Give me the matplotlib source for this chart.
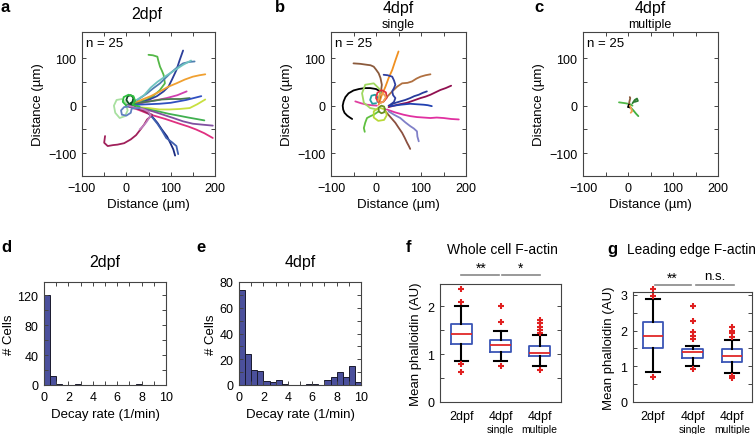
import numpy as np
import matplotlib
matplotlib.use('Agg')
import matplotlib.pyplot as plt
from matplotlib.transforms import blended_transform_factory

plt.rcParams['font.family'] = ['Liberation Sans', 'DejaVu Sans']

# ---------------- data ----------------
tracks_2dpf = [
    [(0, 0), (20, 8), (45, 12), (60, 20), (75, 32), (87, 47), (84, 65), (80, 74), (76, 82), (72, 95), (70, 103), (60, 106), (50, 107)],
    [(0, 0), (15, 2), (32, 6), (50, 12), (69, 20), (84, 30), (95, 40), (103, 55), (113, 75), (120, 95), (128, 116)],
    [(0, 0), (25, 12), (47, 26), (60, 36), (76, 47), (88, 58), (99, 68), (114, 80), (128, 89), (142, 92), (154, 93)],
    [(0, 0), (20, 10), (40, 22), (55, 38), (70, 50), (90, 63), (110, 75), (128, 86), (146, 95)],
    [(0, 0), (18, 5), (36, 13), (55, 20), (76, 30), (95, 40), (113, 47), (132, 55), (150, 61), (165, 64), (178, 66)],
    [(0, 0), (25, 3), (45, 8), (70, 12), (91, 16), (115, 22), (136, 30)],
    [(0, 0), (30, 6), (60, 10), (80, 13), (100, 14), (122, 14), (143, 16)],
    [(0, 0), (25, 2), (50, 3), (75, 4), (100, 6), (135, 12), (169, 20)],
    [(0, 0), (25, -3), (50, -5), (75, -8), (98, -8), (120, -7), (143, -5), (160, 3), (178, 13)],
    [(0, 0), (25, -4), (50, -8), (72, -12), (95, -17), (118, -21), (140, -25), (158, -28), (176, -31)],
    [(0, 0), (30, -5), (60, -12), (83, -19), (106, -26), (128, -33), (150, -38), (172, -40), (195, -42)],
    [(0, 0), (28, -9), (55, -19), (88, -28), (120, -38), (140, -44), (157, -50), (176, -58), (195, -68)],
    [(0, 0), (20, -4), (40, -10), (52, -17), (60, -25), (70, -36), (80, -50), (92, -65), (100, -80), (106, -92), (110, -105)],
    [(0, 0), (22, -5), (45, -12), (58, -24), (70, -38), (80, -52), (90, -68), (103, -77), (113, -85), (115, -94), (117, -102)],
    [(0, 0), (24, -5), (40, -12), (58, -19), (52, -25), (47, -29), (40, -40), (32, -50), (22, -62), (10, -71), (-5, -79), (-20, -82), (-30, -83), (-42, -85), (-50, -78), (-48, -64)],
    [(0, 0), (20, -3), (40, -8), (50, -13), (55, -20), (50, -28), (45, -35), (38, -43), (30, -50)],
    [(0, 5), (-10, 14), (-22, 12), (-28, 0), (-25, -15), (-15, -26), (-3, -22), (3, -10), (0, 0)],
    [(5, 5), (0, 12), (3, 20), (10, 22), (16, 17), (14, 8), (8, 4), (20, 0)],
    [(0, 0), (-8, 8), (-6, 18), (5, 23), (16, 20), (20, 10), (14, 2), (30, -2)],
    [(5, -2), (-5, -3), (-12, -10), (-10, -19), (0, -21), (10, -15), (12, -6), (30, -5)],
]
colors_2dpf = ['#55B848', '#2B3E9A', '#4E7FB0', '#6FC3C0', '#F0A030', '#D040B0',
               '#4A7A50', '#3050C0', '#C8E040', '#40B050', '#8050A0', '#E03080',
               '#1A2A80', '#4060B0', '#A0205A', '#C080C0', '#A8E0A0', '#0A5020',
               '#30C040', '#6080C0']

tracks_single = [
    [(10, 30), (0, 35), (-13, 37), (-25, 37), (-38, 35), (-50, 32), (-61, 26), (-68, 18), (-72, 9), (-74, 0), (-73, -8), (-70, -15), (-64, -21), (-58, -25), (-53, -28)],
    [(6, 2), (12, 20), (21, 40), (28, 58), (36, 75), (43, 95), (50, 114)],
    [(6, 9), (10, 23), (13, 44), (10, 58), (6, 68), (0, 76), (-5, 82), (-12, 85), (-20, 86), (-35, 88), (-50, 89)],
    [(17, 9), (26, 20), (36, 30), (47, 40), (58, 47), (70, 48), (80, 51), (90, 57), (99, 61), (110, 64), (121, 66)],
    [(32, 2), (40, 8), (43, 16), (38, 22), (36, 30), (40, 37), (43, 44), (40, 53), (36, 61), (26, 64), (17, 65)],
    [(28, 0), (40, 5), (54, 9), (65, 12), (76, 16), (85, 20), (95, 23), (104, 27), (113, 30)],
    [(28, -3), (48, 2), (69, 6), (84, 11), (99, 16), (110, 19), (121, 23), (132, 28), (143, 33), (155, 37), (167, 42)],
    [(32, -1), (55, 2), (76, 4), (90, 3), (106, 2), (115, 1), (124, -1)],
    [(24, -8), (42, -14), (61, -19), (76, -22), (91, -24), (106, -25), (121, -26), (135, -25), (150, -26), (167, -28), (184, -29)],
    [(28, -12), (40, -19), (54, -26), (65, -35), (76, -43), (84, -48), (91, -54), (92, -65), (95, -75)],
    [(21, -12), (32, -24), (43, -36), (50, -46), (58, -57), (64, -68), (69, -78), (73, -85), (76, -91)],
    [(2, 0), (-10, 1), (-20, 2), (-33, 5), (-46, 9)],
    [(6, 13), (10, 33), (-5, 47), (-24, 44), (-31, 26), (-27, 6), (-13, -5), (2, -8)],
    [(6, -12), (-5, -19), (-12, -22), (-20, -26), (-24, -36), (-27, -47), (-25, -55)],
    [(5, -5), (-5, -12), (-5, -25), (5, -32), (18, -30), (24, -20), (20, -8), (10, -5)],
    [(20, -8), (18, -2), (12, 0), (6, -4), (6, -12), (12, -16), (18, -14), (20, -8)],
    [(0, 5), (-8, 4), (-13, 12), (-10, 21), (-2, 23), (5, 16), (3, 8)],
    [(5, 8), (0, 16), (3, 27), (12, 33), (22, 28), (24, 17), (16, 8), (8, 6)],
    [(5, 10), (8, 22), (16, 26), (22, 18), (16, 8), (8, 5)],
]
colors_single = ['#000000', '#F09020', '#8B5A3C', '#B07040', '#3040A0', '#283C9C',
                 '#901050', '#2040B0', '#E030A0', '#8080C8', '#8B5040', '#E040A0',
                 '#A0D860', '#60C040', '#B8D838', '#6B8E23', '#20A0A0', '#E03040',
                 '#F0A050']

tracks_multiple = [
    [(-20, 7), (-5, 5), (5, 3), (10, 0)],
    [(5, -3), (12, -10), (18, -17), (23, -22)],
    [(10, 5), (15, 12), (20, 15), (22, 10), (15, 8)],
    [(2, 0), (3, 8), (5, 16), (4, 18)],
    [(0, -3), (2, 2), (4, -4), (3, 0)],
    [(4, 0), (7, -6), (9, -12), (6, -15)],
]
colors_multiple = ['#50B848', '#40B040', '#2E7D32', '#8B5A3C', '#000000', '#F0A050']

bin_edges = np.arange(0, 10.5, 0.5)
counts_2dpf = [120, 12, 1, 0, 0, 1, 0, 0, 0, 0, 0, 0, 0, 0, 0, 1, 0, 0, 0, 0]
counts_4dpf = [74, 24, 12, 11, 3, 2, 4, 1, 0, 0, 0, 1, 1, 0, 4, 6, 10, 6, 15, 2]

groups = ['2dpf', '4dpf', '4dpf']
sublabels = ['', 'single', 'multiple']
whole_q = [  # whislo, q1, med, q3, whishi
    (0.85, 1.22, 1.42, 1.63, 2.01),
    (0.86, 1.05, 1.19, 1.30, 1.49),
    (0.76, 0.96, 1.03, 1.18, 1.40),
]
whole_out = [[2.36, 2.10, 0.80, 0.62], [2.0, 1.67, 0.76],
             [1.72, 1.65, 1.58, 1.51, 1.44, 0.67]]
lead_q = [
    (0.83, 1.52, 1.84, 2.24, 2.89),
    (1.02, 1.24, 1.39, 1.48, 1.56),
    (0.81, 1.13, 1.29, 1.48, 1.73),
]
lead_out = [[3.16, 2.97, 0.69], [2.69, 2.26, 1.96, 1.85, 1.76, 0.93],
            [2.10, 2.0, 1.92, 1.82, 0.74, 0.67]]

# ---------------- figure ----------------
W, H = 755, 435
fig = plt.figure(figsize=(W / 100, H / 100), dpi=100)
TICK = 9
LAB = 9.5


def axes_px(l, t, r, b):
    return fig.add_axes([l / W, 1 - b / H, (r - l) / W, (b - t) / H])


def ftext(x, y, s, **kw):
    kw.setdefault('ha', 'center')
    kw.setdefault('va', 'center')
    fig.text(x / W, 1 - y / H, s, **kw)


def style(ax):
    ax.tick_params(direction='in', top=True, right=True, length=3, width=0.7,
                   colors='#444444', labelcolor='black', labelsize=TICK, pad=4)
    ax.tick_params(which='minor', direction='in', top=True, right=True,
                   length=3, width=0.7, colors='#444444')
    for s in ax.spines.values():
        s.set_color('#444444')
        s.set_linewidth(0.8)


def traj_panel(ax, tracks, colors):
    for tr, c in zip(tracks, colors):
        xs = [p[0] for p in tr]
        ys = [p[1] for p in tr]
        ax.plot(xs, ys, color=c, lw=1.3, solid_capstyle='round', solid_joinstyle='round')
    ax.set_xlim(-100, 200)
    ax.set_ylim(-148, 155)
    ax.set_xticks([-100, 0, 100, 200])
    ax.set_xticks([-50, 50, 150], minor=True)
    ax.set_yticks([-100, 0, 100])
    ax.set_yticks([-50, 50], minor=True)
    ax.set_xlabel('Distance (µm)', fontsize=LAB, labelpad=3)
    ax.set_ylabel('Distance (µm)', fontsize=LAB, labelpad=3)
    ax.text(0.03, 0.965, 'n = 25', transform=ax.transAxes, ha='left', va='top', fontsize=LAB)
    style(ax)


axa = axes_px(82, 33, 215, 177)
traj_panel(axa, tracks_2dpf, colors_2dpf)
axb = axes_px(331, 33, 466, 177)
traj_panel(axb, tracks_single, colors_single)
axc = axes_px(583, 33, 718, 177)
traj_panel(axc, tracks_multiple, colors_multiple)

ftext(147, 15, '2dpf', fontsize=11.5)
ftext(398, 9, '4dpf', fontsize=11.5)
ftext(398, 25, 'single', fontsize=9)
ftext(650, 9, '4dpf', fontsize=11.5)
ftext(650, 25, 'multiple', fontsize=9)
ftext(5, 8, 'a', fontsize=12, fontweight='bold')
ftext(280, 8, 'b', fontsize=12, fontweight='bold')
ftext(539, 8, 'c', fontsize=12, fontweight='bold')


def hist_panel(ax, counts, ymax, ymajor, yminor):
    ax.bar(bin_edges[:-1], counts, width=0.5, align='edge', color='#4B509C',
           edgecolor='#1a1a2e', linewidth=0.7)
    ax.set_xlim(0, 10)
    ax.set_ylim(0, ymax)
    ax.set_xticks(np.arange(0, 11, 2))
    ax.set_xticks(np.arange(1, 10, 2), minor=True)
    ax.set_yticks(np.arange(0, ymax + 1, ymajor))
    ax.set_yticks(np.arange(yminor, ymax, ymajor), minor=True)
    ax.set_xlabel('Decay rate (1/min)', fontsize=LAB, labelpad=4)
    ax.set_ylabel('# Cells', fontsize=LAB, labelpad=2)
    style(ax)


axd = axes_px(44, 283, 166, 386)
hist_panel(axd, counts_2dpf, 138, 40, 20)
axe = axes_px(239, 283, 361, 386)
hist_panel(axe, counts_4dpf, 80, 20, 10)
ftext(105, 263, '2dpf', fontsize=11.5)
ftext(300, 263, '4dpf', fontsize=11.5)
ftext(6, 248, 'd', fontsize=12, fontweight='bold')
ftext(201, 248, 'e', fontsize=12, fontweight='bold')


def box_panel(ax, qs, outs, ymax, xlim):
    stats = []
    for (lo, q1, med, q3, hi), fl in zip(qs, outs):
        stats.append(dict(whislo=lo, q1=q1, med=med, q3=q3, whishi=hi, fliers=fl))
    ax.bxp(stats, positions=[1, 2, 3], widths=0.52, capwidths=0.34,
           boxprops=dict(color='#3A55B5', lw=1.3),
           medianprops=dict(color='#E02828', lw=1.3),
           whiskerprops=dict(color='black', lw=1.5),
           capprops=dict(color='black', lw=1.5),
           flierprops=dict(marker='+', markeredgecolor='#E02020', markersize=5,
                           markeredgewidth=1.5, clip_on=False))
    ax.set_xlim(*xlim)
    ax.set_ylim(0, ymax)
    ax.set_xticks([1, 2, 3])
    ax.set_xticklabels(groups, fontsize=LAB)
    ax.set_yticks(np.arange(0, int(ymax) + 1, 1))
    ax.set_yticks(np.arange(0.5, ymax, 1), minor=True)
    ax.set_ylabel('Mean phalloidin (AU)', fontsize=LAB, labelpad=4)
    style(ax)
    ax.tick_params(axis='x', length=0, top=False, pad=6)


axf = axes_px(440, 285, 561, 403)
box_panel(axf, whole_q, whole_out, 2.47, (0.45, 3.55))
axg = axes_px(633, 293, 752, 403)
box_panel(axg, lead_q, lead_out, 3.08, (0.5, 3.5))

for ax, yy in ((axf, -0.225), (axg, -0.245)):
    tr = blended_transform_factory(ax.transData, ax.transAxes)
    for xi, s in zip([1, 2, 3], sublabels):
        ax.text(xi, yy, s, transform=tr, ha='center', va='center', fontsize=7.5)

# significance bars
trf = blended_transform_factory(axf.transData, axf.transAxes)
yl = 1 + 9 / 118
axf.plot([1.0, 1.95], [yl, yl], color='#888888', lw=1.2, transform=trf, clip_on=False)
axf.plot([2.05, 3.0], [yl, yl], color='#888888', lw=1.2, transform=trf, clip_on=False)
axf.text(1.5, yl + 0.005, '**', transform=trf, ha='center', va='bottom', fontsize=10)
axf.text(2.5, yl + 0.005, '*', transform=trf, ha='center', va='bottom', fontsize=10)

trg = blended_transform_factory(axg.transData, axg.transAxes)
yl = 1 + 7 / 110
axg.plot([1.05, 1.95], [yl, yl], color='#888888', lw=1.2, transform=trg, clip_on=False)
axg.plot([2.1, 3.05], [yl, yl], color='#888888', lw=1.2, transform=trg, clip_on=False)
axg.text(1.5, yl + 0.005, '**', transform=trg, ha='center', va='bottom', fontsize=10)
axg.text(2.57, yl + 0.03, 'n.s.', transform=trg, ha='center', va='bottom', fontsize=LAB)

ftext(502, 250, 'Whole cell F-actin', fontsize=10)
ftext(691, 250, 'Leading edge F-actin', fontsize=9.8)
ftext(409, 248, 'f', fontsize=12, fontweight='bold')
ftext(612, 250, 'g', fontsize=12, fontweight='bold')

fig.savefig('out.png', dpi=100)
